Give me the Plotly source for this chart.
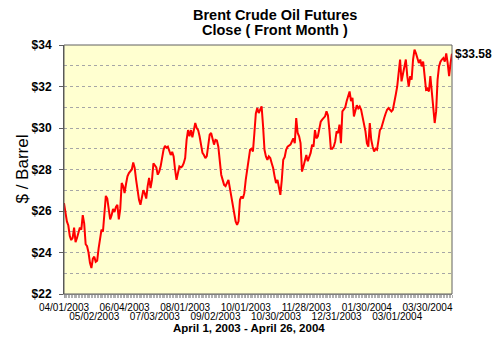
import pandas as pd
import plotly.graph_objects as go

# ---- data ----
holidays = ["2003-04-18", "2003-04-21", "2003-05-05", "2003-05-26", "2003-08-25",
            "2003-12-25", "2003-12-26", "2004-01-01", "2004-04-09", "2004-04-12"]
_days = pd.bdate_range("2003-04-01", "2004-04-26")
_days = _days[~_days.isin(pd.to_datetime(holidays))]
dates = [d.strftime("%m/%d/%Y") for d in _days]

prices = [
    26.38, 25.9, 25.5, 25.3, 24.8, 24.6, 24.7, 25.2, 24.5, 24.7,
    25.0, 25.2, 25.1, 25.8, 25.4, 24.4, 24.3, 24.0, 23.5, 23.25,
    23.7, 23.8, 23.55, 23.6, 24.2, 24.8, 25.1, 25.0, 25.9, 26.73,
    26.6, 26.06, 25.6, 25.8, 26.1, 25.95, 26.2, 26.3, 25.6, 26.1,
    27.35, 27.2, 26.86, 27.3, 27.67, 27.83, 27.9, 28.0, 28.34, 28.07,
    27.5, 27.0, 26.54, 26.3, 26.6, 27.0, 26.85, 26.6, 27.2, 27.6,
    27.1, 27.5, 28.3, 28.2, 28.1, 27.75, 27.9, 28.15, 28.63, 28.95,
    29.14, 29.05, 29.1, 28.85, 28.7, 28.85, 28.63, 28.0, 27.5, 27.83,
    28.15, 28.1, 28.15, 28.3, 28.55, 29.43, 29.9, 29.6, 29.9, 29.55,
    29.9, 30.24, 30.0, 29.9, 29.6, 29.1, 28.8, 28.7, 28.55, 28.65,
    29.27, 29.68, 29.76, 29.5, 29.2, 29.43, 29.4, 29.1, 28.3, 27.75,
    27.5, 27.26, 27.2, 27.35, 27.5, 27.1, 26.7, 26.2, 25.8, 25.5,
    25.33, 25.5, 26.54, 26.7, 26.6, 26.86, 27.5, 28.0, 28.63, 28.95,
    29.0, 28.87, 29.76, 30.7, 30.96, 30.72, 30.88, 31.04, 30.1, 28.95,
    28.63, 28.47, 28.63, 28.55, 28.3, 28.07, 27.67, 27.35, 27.5, 27.2,
    26.78, 27.5, 28.47, 28.6, 28.95, 29.1, 29.15, 29.2, 29.35, 29.5,
    29.27, 30.48, 29.76, 29.6, 29.27, 27.9, 28.15, 28.47, 28.7, 28.4,
    28.6, 28.8, 29.2, 29.1, 29.9, 29.5, 29.6, 30.0, 30.3, 30.4,
    30.5, 30.56, 30.8, 30.6, 29.9, 29.0, 29.0, 29.1, 29.35, 29.84,
    29.75, 30.16, 29.27, 30.8, 30.9, 31.0, 31.3, 31.52, 31.76, 31.3,
    31.45, 30.56, 30.88, 31.1, 30.95, 31.04, 30.88, 30.56, 30.24, 29.84,
    29.27, 29.1, 30.24, 29.43, 29.1, 28.87, 29.0, 28.95, 29.4, 29.9,
    30.0, 30.3, 30.48, 30.7, 30.88, 30.96, 30.85, 30.8, 30.88, 31.36,
    31.6, 32.0, 32.73, 33.3, 32.25, 32.65, 32.9, 33.3, 32.5, 32.0,
    32.5, 32.33, 33.3, 33.78, 33.6, 33.37, 33.13, 33.3, 32.97, 33.2,
    32.65, 31.85, 31.9, 31.76, 32.5, 31.6, 31.04, 30.24, 30.8, 32.33,
    32.97, 33.2, 33.3, 33.37, 33.2, 33.6, 33.13, 32.5, 33.13, 33.58,
]

tick_labels = ["04/01/2003", "05/02/2003", "06/04/2003", "07/03/2003", "08/01/2003",
               "09/02/2003", "10/01/2003", "10/30/2003", "11/28/2003", "12/31/2003",
               "01/30/2004", "03/01/2004", "03/30/2004"]

title_lines = ["Brent Crude Oil Futures", "Close ( Front Month )"]
x_title = "April 1, 2003 - April 26, 2004"
y_title = "$ / Barrel"

assert len(prices) == len(dates), (len(prices), len(dates))

pos = list(range(len(dates)))
tick_pos = [dates.index(t) for t in tick_labels]
row1_pos = tick_pos[0::2]
row1_txt = tick_labels[0::2]
row2_pos = tick_pos[1::2]
row2_txt = tick_labels[1::2]

FONT = "Arial, 'Liberation Sans', sans-serif"
GRID = "#a6a6a6"

fig = go.Figure()
fig.add_trace(go.Scatter(x=pos, y=prices, mode="lines",
                         line=dict(color="#ff0000", width=2),
                         customdata=dates, hovertemplate="%{customdata}: $%{y:.2f}<extra></extra>",
                         showlegend=False))
fig.add_trace(go.Scatter(x=pos, y=prices, xaxis="x2", mode="lines",
                         line=dict(color="rgba(0,0,0,0)", width=0),
                         hoverinfo="skip", showlegend=False))

xr = [0, len(dates) - 1]
fig.update_layout(
    width=498, height=338,
    margin=dict(l=64, r=46, t=45, b=44),
    paper_bgcolor="white",
    plot_bgcolor="#ffffd0",
    font=dict(family=FONT, color="black"),
    xaxis=dict(
        range=xr, tickmode="array", tickvals=row1_pos, ticktext=row1_txt,
        tickfont=dict(size=10, family=FONT), tickangle=0,
        ticks="outside", ticklen=3, tickcolor="#a0a0a0",
        minor=dict(tickmode="linear", tick0=0, dtick=1, ticks="outside", ticklen=3,
                   tickcolor="#b0b0b0", showgrid=False),
        showgrid=False, zeroline=False,
        showline=True, linecolor="#a0a0a0", linewidth=1, mirror=False,
        ticklabelstandoff=1,
    ),
    xaxis2=dict(
        range=xr, overlaying="x", anchor="y", side="bottom",
        tickmode="array", tickvals=row2_pos, ticktext=row2_txt,
        tickfont=dict(size=10, family=FONT), tickangle=0,
        ticks="", showgrid=False, zeroline=False, showline=False,
        ticklabelstandoff=15,
    ),
    yaxis=dict(
        range=[22, 34], tickmode="linear", tick0=22, dtick=2, tickprefix="$",
        tickfont=dict(size=12, family=FONT, weight="bold"),
        ticks="outside", ticklen=4, tickcolor="#606060",
        showgrid=True, gridcolor=GRID, griddash="dot", gridwidth=1,
        minor=dict(tickmode="linear", tick0=23, dtick=2, showgrid=True,
                   gridcolor=GRID, griddash="dot", gridwidth=1, ticks=""),
        zeroline=False, showline=True, linecolor="#505050", linewidth=1,
        ticklabelstandoff=5,
    ),
    showlegend=False,
)

# frame top / right
fig.add_shape(type="rect", xref="paper", yref="paper", x0=0, x1=1, y0=0, y1=1,
              line=dict(color="#606060", width=1), fillcolor="rgba(0,0,0,0)", layer="above")

annotations = [
    dict(text=title_lines[0], xref="paper", yref="paper", x=(275 - 64) / 388, y=1,
         xanchor="center", yanchor="middle", yshift=30.5, showarrow=False,
         font=dict(size=14.5, family=FONT, weight="bold")),
    dict(text=title_lines[1], xref="paper", yref="paper", x=(275 - 64) / 388, y=1,
         xanchor="center", yanchor="middle", yshift=15, showarrow=False,
         font=dict(size=14.5, family=FONT, weight="bold")),
    dict(text=x_title, xref="paper", yref="paper", x=(249 - 64) / 388, y=0,
         xanchor="center", yanchor="middle", yshift=-34, showarrow=False,
         font=dict(size=11.5, family=FONT, weight="bold")),
    dict(text=y_title, xref="paper", yref="paper", x=0, y=0.5, xshift=-42,
         xanchor="center", yanchor="middle", textangle=-90, showarrow=False,
         font=dict(size=17, family=FONT)),
    dict(text="$%.2f" % prices[-1], xref="paper", yref="y", x=1, y=prices[-1],
         xanchor="left", yanchor="middle", xshift=1, showarrow=False,
         font=dict(size=12, family=FONT, weight="bold")),
]
fig.update_layout(annotations=annotations)

fig.write_html("out.html")
